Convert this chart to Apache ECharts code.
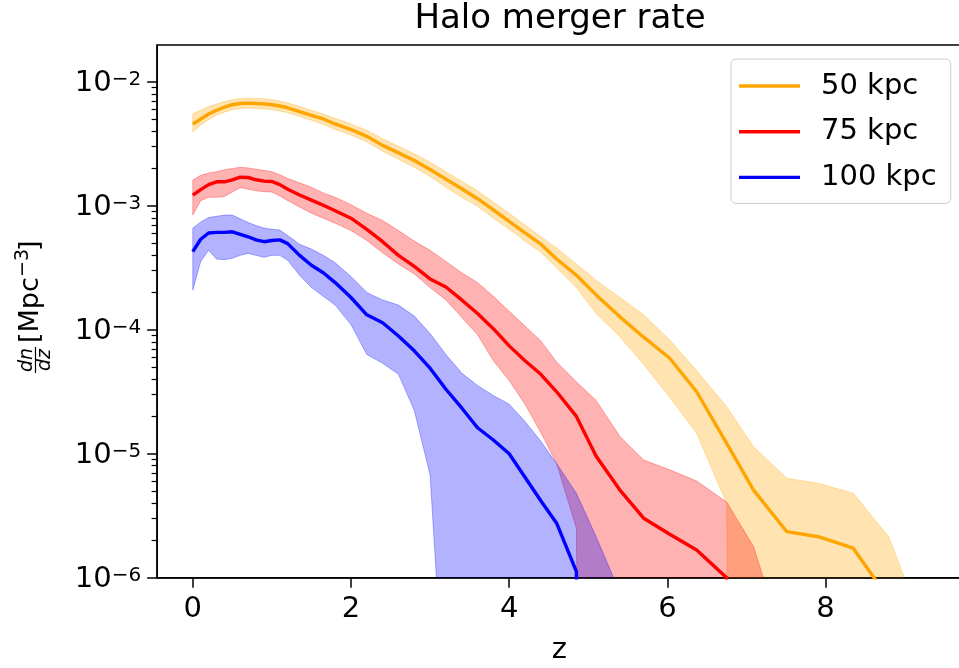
<!DOCTYPE html>
<html>
<head>
<meta charset="utf-8">
<title>Halo merger rate</title>
<script src="https://cdn.jsdelivr.net/npm/echarts@6/dist/echarts.min.js"></script>
<style>
  html, body { margin: 0; padding: 0; background: #ffffff; }
  #chart { width: 959px; height: 668px; }
</style>
</head>
<body>
<div id="chart"></div>
<script>
// Redshift bins shared by all three separations
const redshift = [0, 0.1, 0.2, 0.3, 0.4, 0.5, 0.6, 0.7, 0.8, 0.9, 1.0, 1.1, 1.2,
  1.35, 1.5, 1.65, 1.8,
  2.0, 2.2, 2.4, 2.6, 2.8, 3.0, 3.2, 3.4, 3.6, 3.8, 4.0, 4.2, 4.4, 4.6,
  4.85, 5.1, 5.4, 5.7, 6.03, 6.37, 6.75, 7.09, 7.51, 7.91, 8.35, 8.8, 9.25];

// dn/dz [Mpc^-3] — 50 kpc pair separation (median, upper, lower)
const rate50 = [4.56e-3, 5.01e-3, 5.50e-3, 5.89e-3, 6.24e-3, 6.53e-3, 6.68e-3, 6.73e-3, 6.68e-3, 6.64e-3, 6.53e-3, 6.38e-3, 6.17e-3,
  5.75e-3, 5.37e-3, 5.01e-3, 4.57e-3,
  4.12e-3, 3.63e-3, 3.07e-3, 2.67e-3, 2.32e-3, 1.96e-3, 1.64e-3, 1.37e-3, 1.14e-3, 9.27e-4, 7.48e-4, 6.05e-4, 4.90e-4, 3.72e-4,
  2.75e-4, 1.91e-4, 1.27e-4, 8.71e-5, 5.89e-5, 3.16e-5, 1.21e-5, 5.09e-6, 2.35e-6, 2.14e-6, 1.73e-6, 6.76e-7, 1.0e-7];
const rate50Hi = [5.56e-3, 5.89e-3, 6.31e-3, 6.61e-3, 6.92e-3, 7.16e-3, 7.33e-3, 7.38e-3, 7.33e-3, 7.28e-3, 7.16e-3, 7.00e-3, 6.76e-3,
  6.31e-3, 5.89e-3, 5.50e-3, 5.07e-3,
  4.57e-3, 4.07e-3, 3.47e-3, 3.02e-3, 2.63e-3, 2.24e-3, 1.88e-3, 1.58e-3, 1.32e-3, 1.07e-3, 8.71e-4, 7.00e-4, 5.62e-4, 4.57e-4,
  3.39e-4, 2.51e-4, 1.82e-4, 1.32e-4, 8.26e-5, 4.68e-5, 2.39e-5, 1.14e-5, 6.34e-6, 5.77e-6, 4.80e-6, 2.14e-6, 3.72e-7];
const rate50Lo = [3.95e-3, 4.47e-3, 4.95e-3, 5.37e-3, 5.69e-3, 5.96e-3, 6.10e-3, 6.14e-3, 6.10e-3, 6.05e-3, 5.96e-3, 5.82e-3, 5.62e-3,
  5.25e-3, 4.90e-3, 4.52e-3, 4.12e-3,
  3.72e-3, 3.27e-3, 2.75e-3, 2.37e-3, 2.04e-3, 1.72e-3, 1.41e-3, 1.17e-3, 9.89e-4, 7.94e-4, 6.46e-4, 5.19e-4, 4.22e-4, 3.16e-4,
  2.19e-4, 1.35e-4, 8.79e-5, 5.25e-5, 2.85e-5, 1.46e-5, 3.98e-6, 0, 0, 0, 0, 0, 0];

// 75 kpc
const rate75 = [1.22e-3, 1.35e-3, 1.48e-3, 1.56e-3, 1.56e-3, 1.62e-3, 1.70e-3, 1.69e-3, 1.62e-3, 1.58e-3, 1.57e-3, 1.48e-3, 1.36e-3,
  1.22e-3, 1.11e-3, 1.01e-3, 9.12e-4,
  7.94e-4, 6.46e-4, 5.13e-4, 3.98e-4, 3.24e-4, 2.57e-4, 2.21e-4, 1.74e-4, 1.35e-4, 1.02e-4, 7.41e-5, 5.62e-5, 4.37e-5, 3.16e-5,
  2.00e-5, 9.55e-6, 5.09e-6, 3.02e-6, 2.24e-6, 1.67e-6, 1.00e-6, 0, 0, 0, 0, 0, 0];
const rate75Hi = [1.61e-3, 1.76e-3, 1.84e-3, 1.88e-3, 1.95e-3, 2.00e-3, 2.04e-3, 2.02e-3, 1.97e-3, 1.93e-3, 1.88e-3, 1.78e-3, 1.66e-3,
  1.53e-3, 1.41e-3, 1.27e-3, 1.17e-3,
  1.02e-3, 8.71e-4, 7.59e-4, 6.31e-4, 5.19e-4, 4.37e-4, 3.55e-4, 2.88e-4, 2.40e-4, 1.86e-4, 1.41e-4, 1.07e-4, 8.13e-5, 5.50e-5,
  3.80e-5, 2.69e-5, 1.38e-5, 8.91e-6, 7.41e-6, 6.03e-6, 4.07e-6, 1.78e-6, 2.51e-7, 0, 0, 0, 0];
const rate75Lo = [8.41e-4, 1.10e-3, 1.17e-3, 1.17e-3, 1.19e-3, 1.29e-3, 1.40e-3, 1.36e-3, 1.32e-3, 1.30e-3, 1.29e-3, 1.20e-3, 1.10e-3,
  9.77e-4, 8.71e-4, 7.94e-4, 7.24e-4,
  6.31e-4, 5.25e-4, 4.17e-4, 3.39e-4, 2.82e-4, 2.19e-4, 1.74e-4, 1.26e-4, 9.12e-5, 5.62e-5, 3.89e-5, 2.51e-5, 1.48e-5, 8.32e-6,
  2.51e-6, 0, 0, 0, 0, 0, 0, 0, 0, 0, 0, 0, 0];

// 100 kpc
const rate100 = [4.26e-4, 5.37e-4, 6.03e-4, 6.10e-4, 6.10e-4, 6.17e-4, 5.89e-4, 5.62e-4, 5.31e-4, 5.13e-4, 5.25e-4, 5.31e-4, 4.95e-4,
  3.98e-4, 3.31e-4, 2.88e-4, 2.40e-4,
  1.82e-4, 1.32e-4, 1.14e-4, 8.91e-5, 6.76e-5, 4.90e-5, 3.31e-5, 2.34e-5, 1.62e-5, 1.29e-5, 1.00e-5, 6.46e-6, 4.17e-6, 2.75e-6,
  1.12e-6, 0, 0, 0, 0, 0, 0, 0, 0, 0, 0, 0, 0];
const rate100Hi = [6.58e-4, 7.41e-4, 8.04e-4, 8.22e-4, 8.41e-4, 8.41e-4, 7.85e-4, 7.33e-4, 6.92e-4, 6.61e-4, 6.46e-4, 6.37e-4, 5.75e-4,
  4.90e-4, 4.47e-4, 3.98e-4, 3.47e-4,
  2.69e-4, 2.00e-4, 1.74e-4, 1.58e-4, 1.29e-4, 9.33e-5, 6.31e-5, 4.47e-5, 3.55e-5, 2.95e-5, 2.51e-5, 1.82e-5, 1.26e-5, 8.32e-6,
  4.79e-6, 2.14e-6, 7.59e-7, 0, 0, 0, 0, 0, 0, 0, 0, 0, 0];
const rate100Lo = [2.09e-4, 3.55e-4, 4.37e-4, 3.72e-4, 3.67e-4, 3.77e-4, 3.98e-4, 4.12e-4, 3.98e-4, 3.84e-4, 3.98e-4, 3.98e-4, 3.63e-4,
  2.75e-4, 2.19e-4, 1.86e-4, 1.58e-4,
  1.10e-4, 6.31e-5, 5.37e-5, 4.37e-5, 2.24e-5, 6.76e-6, 5.62e-8, 0, 0, 0, 0, 0, 0, 0,
  0, 0, 0, 0, 0, 0, 0, 0, 0, 0, 0, 0, 0];

const seriesNames = ['50 kpc', '75 kpc', '100 kpc'];
const seriesColors = ['#ffa500', '#ff0000', '#0000ff'];
const bandColors = ['rgba(255,165,0,0.3)', 'rgba(255,0,0,0.3)', 'rgba(0,0,255,0.3)'];

// Axis ticks
const xTicks = [0, 2, 4, 6, 8];
const yTicks = [1e-6, 1e-5, 1e-4, 1e-3, 1e-2];
const yMinorMantissas = [2, 3, 4, 5, 6, 7, 8, 9];
const yMinorTicks = [];
yTicks.slice(0, 4).forEach(d => yMinorMantissas.forEach(m => yMinorTicks.push(+(m * d).toPrecision(3))));

const FONT = 'DejaVu Sans';
// non-positive rates are pushed far below the log axis floor (clipped by the grid)
const LOG_FLOOR = 1e-30;
const positive = v => (v > 0 ? v : LOG_FLOOR);

const chart = echarts.init(document.getElementById('chart'), null, { renderer: 'canvas' });

function bandSeries(idx, hi, lo) {
  return {
    type: 'custom',
    name: seriesNames[idx] + ' range',
    xAxisIndex: 0,
    yAxisIndex: 0,
    z: 2 + idx * 2,
    silent: true,
    clip: true,
    data: [[redshift[0], hi[0]]],
    renderItem(params, api) {
      const pts = [];
      for (let i = 0; i < redshift.length; i++) pts.push(api.coord([redshift[i], positive(hi[i])]));
      for (let i = redshift.length - 1; i >= 0; i--) pts.push(api.coord([redshift[i], positive(lo[i])]));
      const cs = params.coordSys;
      return {
        type: 'polygon',
        shape: { points: pts },
        style: { fill: bandColors[idx], stroke: bandColors[idx], lineWidth: 1 },
        clipPath: { type: 'rect', shape: { x: cs.x, y: cs.y, width: cs.width, height: cs.height } }
      };
    }
  };
}

function lineSeries(idx, vals) {
  return {
    type: 'line',
    name: seriesNames[idx],
    xAxisIndex: 0,
    yAxisIndex: 0,
    z: 3 + idx * 2,
    symbol: 'none',
    showSymbol: false,
    clip: true,
    silent: true,
    lineStyle: { color: seriesColors[idx], width: 3.4 },
    itemStyle: { color: seriesColors[idx] },
    data: redshift.map((z, i) => [z, positive(vals[i])])
  };
}

const option = {
  animation: false,
  backgroundColor: '#ffffff',
  title: {
    text: 'Halo merger rate',
    left: 560,
    top: 2,
    padding: 0,
    textAlign: 'center',
    textStyle: { fontFamily: FONT, fontSize: 34, fontWeight: 'normal', color: '#000', lineHeight: 34 }
  },
  legend: {
    orient: 'vertical',
    left: 731,
    top: 59,
    icon: 'rect',
    itemWidth: 61,
    itemHeight: 3.4,
    itemGap: 15.7,
    padding: [12, 14, 11, 8],
    backgroundColor: 'rgba(255,255,255,0.8)',
    borderColor: '#cccccc',
    borderWidth: 1,
    borderRadius: 5,
    selectedMode: false,
    textStyle: { fontFamily: FONT, fontSize: 29, color: '#000', lineHeight: 30, padding: [0, 0, 0, 16] },
    data: seriesNames
  },
  grid: {
    left: 157.2,
    right: -2.6,
    top: 45,
    bottom: 90.3,
    show: true,
    borderColor: '#000',
    borderWidth: 1.5,
    containLabel: false,
    outerBoundsMode: 'none'
  },
  xAxis: {
    type: 'value',
    min: -0.45,
    max: 9.72,
    name: 'z',
    nameLocation: 'middle',
    nameGap: 58,
    nameTextStyle: { fontFamily: FONT, fontSize: 29, color: '#000' },
    axisLine: { show: true, onZero: false, lineStyle: { color: '#000', width: 1.5 } },
    axisTick: { show: true, length: 10, lineStyle: { color: '#000', width: 1.5 }, customValues: xTicks },
    axisLabel: { fontFamily: FONT, fontSize: 29, color: '#000', margin: 17, customValues: xTicks },
    splitLine: { show: false }
  },
  yAxis: [
    {
      type: 'log',
      logBase: 10,
      min: 1e-6,
      max: 0.0198,
      position: 'left',
      axisLine: { show: true, onZero: false, lineStyle: { color: '#000', width: 1.5 } },
      axisTick: { show: true, length: 10, lineStyle: { color: '#000', width: 1.5 }, customValues: yTicks },
      axisLabel: {
        margin: 16,
        customValues: yTicks,
        formatter: v => '{b|10}{s|\u2212' + Math.round(-Math.log10(v)) + '}',
        rich: {
          b: { fontFamily: FONT, fontSize: 29, color: '#000', lineHeight: 24, padding: [4, 0, 0, 0] },
          s: { fontFamily: FONT, fontSize: 20, color: '#000', lineHeight: 20, verticalAlign: 'top' }
        }
      },
      splitLine: { show: false }
    },
    {
      type: 'log',
      logBase: 10,
      min: 1e-6,
      max: 0.0198,
      position: 'left',
      axisLine: { show: false, onZero: false },
      axisTick: { show: true, length: 5.6, lineStyle: { color: '#000', width: 1.2 }, customValues: yMinorTicks },
      axisLabel: { show: false },
      splitLine: { show: false }
    }
  ],
  graphic: [
    {
      type: 'group',
      x: 40,
      y: 308,
      rotation: Math.PI / 2,
      silent: true,
      children: [
        { type: 'text', x: -52, y: -13, style: { text: 'dn', font: 'italic 19px "DejaVu Sans"', fill: '#000', align: 'center', verticalAlign: 'middle' } },
        { type: 'line', shape: { x1: -65, y1: -4.5, x2: -39, y2: -4.5 }, style: { stroke: '#000', lineWidth: 1.2 } },
        { type: 'text', x: -52, y: 5.5, style: { text: 'dz', font: 'italic 19px "DejaVu Sans"', fill: '#000', align: 'center', verticalAlign: 'middle' } },
        { type: 'text', x: -35, y: -9.5, style: { text: '[Mpc', font: '27px "DejaVu Sans"', fill: '#000', align: 'left', verticalAlign: 'middle' } },
        { type: 'text', x: 31, y: -17, style: { text: '\u22123', font: '19px "DejaVu Sans"', fill: '#000', align: 'left', verticalAlign: 'middle' } },
        { type: 'text', x: 57, y: -9.5, style: { text: ']', font: '27px "DejaVu Sans"', fill: '#000', align: 'left', verticalAlign: 'middle' } }
      ]
    }
  ],
  series: [
    bandSeries(0, rate50Hi, rate50Lo), lineSeries(0, rate50),
    bandSeries(1, rate75Hi, rate75Lo), lineSeries(1, rate75),
    bandSeries(2, rate100Hi, rate100Lo), lineSeries(2, rate100)
  ]
};

chart.setOption(option);
</script>
</body>
</html>
